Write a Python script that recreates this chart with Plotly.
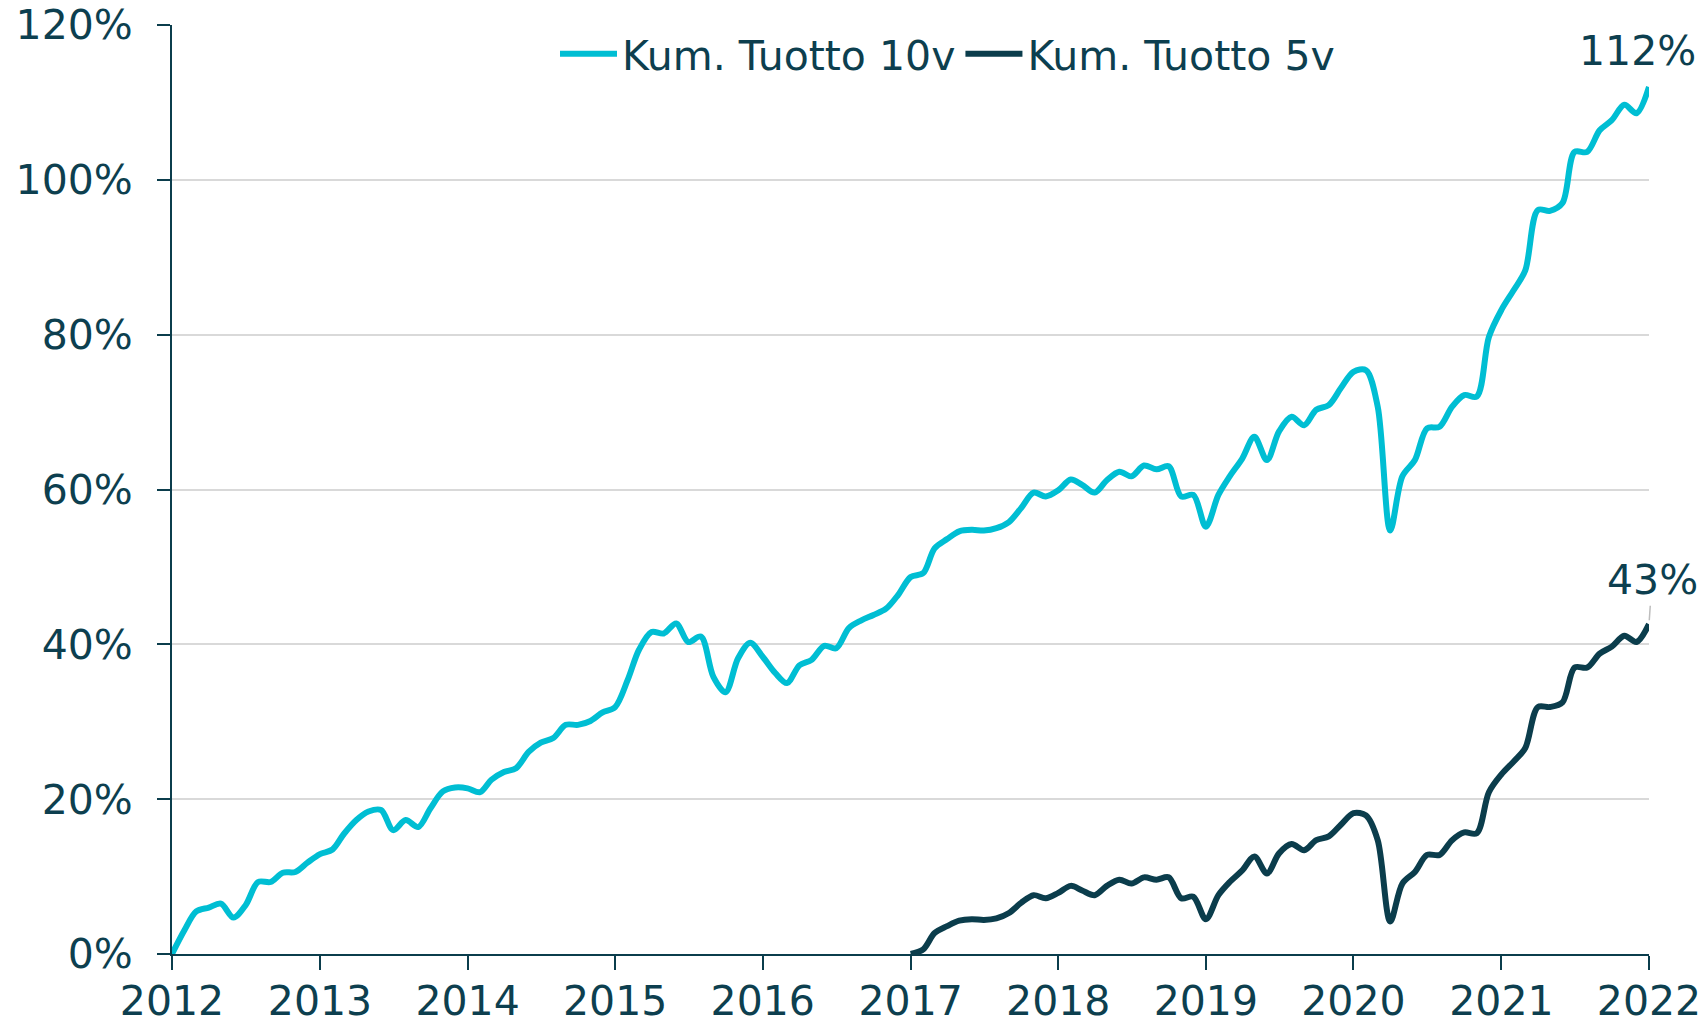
import pandas as pd
import plotly.graph_objects as go

# Monthly dates, Jan 2012 .. Jan 2022
dates = pd.date_range("2012-01-01", periods=121, freq="MS")

# Cumulative return, 10 years (%)
tuotto_10v = [
    0.0, 3.1, 5.5, 6.0, 6.5, 4.7, 6.3, 9.3, 9.3, 10.5, 10.6, 11.8,
    12.9, 13.5, 15.5, 17.3, 18.4, 18.6, 16.0, 17.3, 16.4, 18.8, 21.0, 21.5,
    21.4, 20.9, 22.5, 23.5, 24.0, 26.1, 27.3, 27.9, 29.6, 29.6, 30.1, 31.2,
    31.9, 35.4, 39.3, 41.6, 41.4, 42.7, 40.3, 41.0, 35.8, 33.8, 38.2, 40.2,
    38.4, 36.3, 35.0, 37.3, 38.0, 39.8, 39.5, 42.1, 43.1, 43.8, 44.6, 46.4,
    48.7, 49.2, 52.4, 53.6, 54.6, 54.8, 54.7, 55.0, 55.8, 57.6, 59.6, 59.1,
    59.9, 61.3, 60.6, 59.6, 61.2, 62.3, 61.7, 63.1, 62.6, 63.0, 59.1, 59.3,
    55.2, 59.3, 61.7, 64.0, 66.8, 63.8, 67.5, 69.4, 68.3, 70.3, 70.9, 73.1,
    75.2, 75.4, 70.7, 54.7, 61.7, 63.8, 67.9, 68.1, 70.7, 72.2, 72.0, 79.7,
    83.2, 85.8, 88.3, 96.1, 96.0, 97.0, 103.6, 103.6, 106.4, 107.7, 109.7, 108.6,
    112.0,
]

# Cumulative return, 5 years (%), starts Jan 2017
dates_5v = dates[60:]
tuotto_5v = [
    0.0, 0.6, 2.7, 3.6, 4.3, 4.5, 4.4, 4.6, 5.3, 6.6, 7.6, 7.2,
    7.9, 8.8, 8.2, 7.6, 8.8, 9.6, 9.1, 9.9, 9.6, 9.9, 7.2, 7.4,
    4.5, 7.6, 9.3, 10.8, 12.6, 10.4, 13.0, 14.2, 13.4, 14.7, 15.2, 16.7,
    18.2, 17.9, 14.7, 4.2, 9.1, 10.6, 12.8, 12.8, 14.7, 15.7, 15.6, 20.9,
    23.2, 24.9, 26.6, 31.9, 31.9, 32.5, 37.0, 37.0, 38.8, 39.7, 41.1, 40.3,
    42.6,
]

series_names = ["Kum. Tuotto 10v", "Kum. Tuotto 5v"]
y_ticks = [0, 20, 40, 60, 80, 100, 120]
y_tick_labels = [f"{v}%" for v in y_ticks]
x_ticks = pd.date_range("2012-01-01", "2022-01-01", freq="YS")
x_tick_labels = [str(d.year) for d in x_ticks]

CYAN = "#00BED3"
DARK = "#0B3D4C"
TEXT = "#0D3F4F"
FONT = "DejaVu Sans"
FS = 41

W, H = 1706, 1026
L, R, T, B = 172, 57, 25, 72
PLOT_H = H - T - B

fig = go.Figure()
fig.add_trace(go.Scatter(
    x=dates, y=tuotto_10v, mode="lines", name=series_names[0],
    line=dict(color=CYAN, width=6, shape="spline", smoothing=0.9),
))
fig.add_trace(go.Scatter(
    x=dates_5v, y=tuotto_5v, mode="lines", name=series_names[1],
    line=dict(color=DARK, width=6, shape="spline", smoothing=0.9),
))

fig.add_annotation(
    x=dates[-1], y=tuotto_10v[-1], text=f"{tuotto_10v[-1]:.0f}%",
    showarrow=False, yshift=36, xshift=-12,
    font=dict(family=FONT, size=FS, color=TEXT),
)
fig.add_annotation(
    x=dates_5v[-1], y=tuotto_5v[-1], text=f"{tuotto_5v[-1]:.0f}%",
    showarrow=True, arrowhead=0, arrowwidth=1.5, arrowcolor="#BDBDBD",
    ax=3, ay=-44, standoff=4,
    font=dict(family=FONT, size=FS, color=TEXT),
)

fig.update_layout(
    template="none",
    width=W, height=H,
    margin=dict(l=L, r=R, t=T, b=B, autoexpand=False),
    plot_bgcolor="white", paper_bgcolor="white",
    font=dict(family=FONT, size=FS, color=TEXT),
    showlegend=True,
    legend=dict(
        orientation="h", x=(555 - 172) / 1477, xanchor="left",
        y=(PLOT_H - (54 - 25)) / PLOT_H, yanchor="middle",
        font=dict(family=FONT, size=FS, color=TEXT),
        bgcolor="rgba(0,0,0,0)", itemwidth=57, tracegroupgap=0,
    ),
    xaxis=dict(
        range=[x_ticks[0], x_ticks[-1]],
        tickmode="array", tickvals=x_ticks, ticktext=x_tick_labels,
        showgrid=False, zeroline=False, automargin=False,
        showline=True, linecolor=DARK, linewidth=2,
        ticks="outside", ticklen=14, tickwidth=2, tickcolor=DARK,
        tickfont=dict(family=FONT, size=FS, color=TEXT),
        ticklabelstandoff=-4,
    ),
    yaxis=dict(
        range=[0, 120], tickmode="array", tickvals=y_ticks, ticktext=y_tick_labels,
        showgrid=True, gridcolor="#D9D9D9", gridwidth=2,
        zeroline=False, automargin=False,
        showline=True, linecolor=DARK, linewidth=2,
        ticks="outside", ticklen=13, tickwidth=2, tickcolor=DARK,
        tickfont=dict(family=FONT, size=FS, color=TEXT),
        ticklabelstandoff=16,
    ),
)

fig.write_html(
    "out.html",
    config={"displayModeBar": False},
    post_script="document.body.style.margin='0';document.body.style.overflow='hidden';",
)
